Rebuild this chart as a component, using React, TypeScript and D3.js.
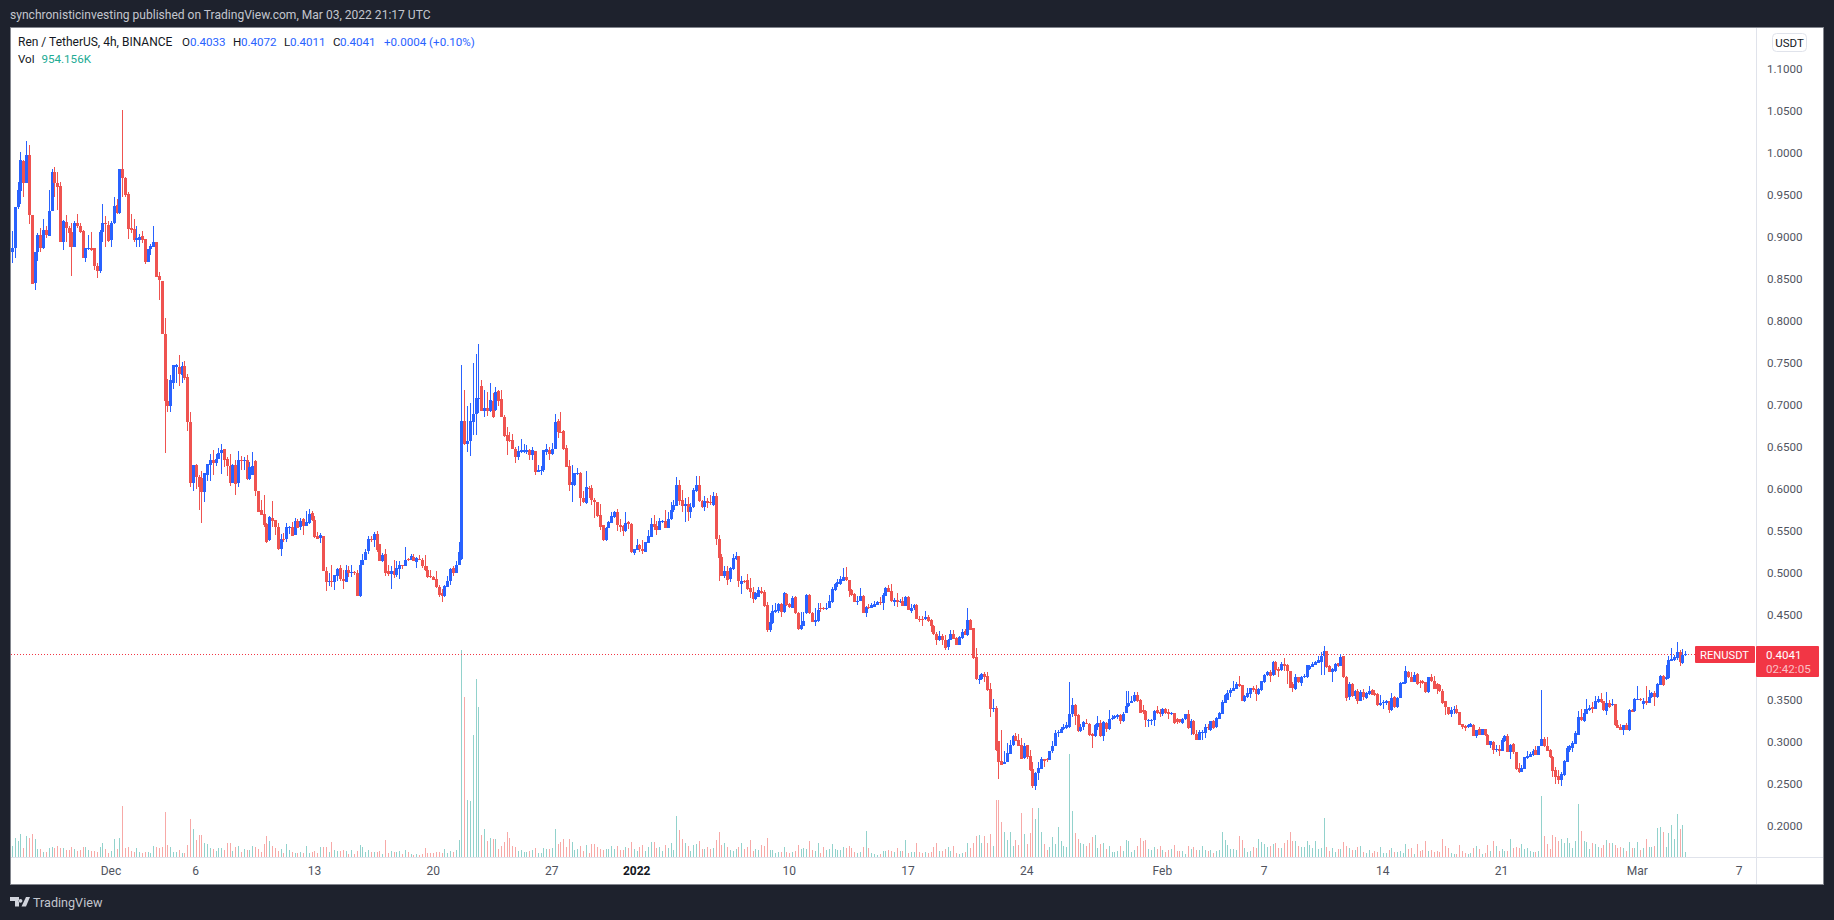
import React from "react";
import * as d3 from "d3";

// prices are in thousandths of USDT, one entry per 4h bar from Nov 25 04:00 UTC
const opens = [
  882,886,935,954,990,964,997,925,845,881,
  902,886,908,901,930,977,963,960,894,917,
  910,905,888,916,912,906,875,885,886,886,
  865,859,905,916,914,896,916,937,928,980,
  970,950,910,909,896,896,901,897,870,885,
  888,894,853,847,784,704,699,726,745,745,
  735,746,733,679,607,628,614,613,596,617,
  629,634,631,636,643,647,636,627,607,629,
  607,634,633,634,612,617,633,598,575,570,
  558,539,566,563,555,529,541,540,554,555,
  545,562,555,564,556,560,571,563,544,542,
  544,502,489,490,489,497,506,493,489,504,
  500,501,500,473,510,516,526,541,539,546,
  535,514,523,502,499,503,498,505,509,508,
  517,515,519,513,517,516,508,504,496,495,
  493,483,476,473,484,490,506,500,509,517,
  681,653,657,679,689,707,722,693,696,693,
  705,694,716,707,685,664,658,658,648,638,
  644,644,644,646,640,645,620,622,623,644,
  646,641,648,681,668,669,649,627,605,605,
  618,619,589,583,601,601,587,584,569,557,
  539,554,560,567,572,557,556,550,561,558,
  524,527,533,529,525,536,543,558,556,551,
  561,562,554,564,575,580,605,587,580,582,
  572,579,597,605,586,578,586,584,581,592,
  541,519,497,503,493,505,517,520,487,491,
  492,482,478,469,472,479,478,462,432,441,
  454,455,463,454,475,463,459,471,453,433,
  437,452,474,453,442,443,458,458,457,458,
  466,480,487,487,491,495,492,480,475,466,
  467,473,453,460,459,460,462,466,465,473,
  482,479,466,468,466,467,461,472,455,458,
  462,446,446,445,448,444,437,428,420,425,
  421,412,421,428,423,415,423,431,426,444,
  435,400,373,374,380,378,362,338,340,300,
  277,273,275,285,296,306,302,296,280,296,
  283,267,247,262,267,279,279,278,288,294,
  310,310,315,316,317,332,343,331,312,317,
  322,321,309,306,317,322,306,322,315,326,
  328,329,331,324,334,342,346,348,355,349,
  337,336,324,324,325,337,335,332,338,335,
  332,334,326,326,322,326,332,316,324,309,
  302,310,310,317,313,324,317,327,333,346,
  349,357,360,362,368,367,348,353,356,363,
  362,356,361,370,379,382,379,394,386,385,
  392,391,384,368,362,377,369,376,376,386,
  388,391,393,394,401,407,390,383,384,393,
  389,401,377,353,368,354,360,348,359,352,
  356,361,357,356,343,346,346,348,337,353,
  341,352,368,369,383,377,371,380,371,372,
  370,359,377,372,368,367,360,348,341,332,
  337,339,335,321,318,317,317,320,306,315,
  308,315,308,296,299,290,291,289,300,306,
  287,297,287,268,263,267,280,282,284,290,
  284,294,303,294,290,282,266,259,254,260,
  276,290,292,297,308,329,324,333,337,341,
  339,347,350,348,336,345,343,344,319,317,
  314,319,314,337,336,349,350,344,348,346,
  353,357,353,367,378,374,375,396,397,399,
  406,393,403.3,
];

const closes = [
  886,935,955,991,964,997,925,844,881,902,
  886,908,902,930,977,963,959,894,918,910,
  904,888,916,912,905,875,886,886,884,865,
  859,905,916,915,895,916,936,928,980,969,
  949,909,908,896,898,899,896,870,885,889,
  893,852,848,784,704,698,729,747,747,737,
  746,732,679,607,628,614,602,596,619,630,
  634,631,636,643,646,634,627,607,628,606,
  634,633,634,612,626,627,597,573,569,557,
  537,567,562,555,529,541,539,555,555,544,
  562,554,562,556,561,570,563,543,541,545,
  502,489,491,489,498,505,493,490,504,500,
  501,500,473,510,516,525,541,539,546,527,
  514,522,500,499,503,498,506,510,508,516,
  515,520,514,518,516,508,504,495,495,492,
  483,474,473,485,491,505,500,510,525,681,
  653,657,681,689,708,708,693,696,693,706,
  685,715,705,685,663,657,657,648,638,645,
  646,646,646,640,646,620,623,623,646,647,
  641,648,679,668,667,648,626,605,608,619,
  619,589,584,602,600,587,584,568,555,539,
  554,561,568,573,557,555,550,560,558,525,
  529,533,529,526,537,544,558,555,551,562,
  562,554,564,575,581,605,586,580,582,572,
  579,599,605,586,578,586,583,583,592,540,
  518,497,503,492,506,518,520,490,491,490,
  481,477,469,476,480,476,461,432,442,455,
  456,463,454,476,462,460,470,452,433,438,
  443,474,452,442,444,456,457,457,459,467,
  481,487,489,493,495,492,479,474,466,467,
  473,453,460,459,462,463,466,465,474,482,
  477,467,468,466,467,461,472,456,458,462,
  445,445,445,448,443,437,427,420,425,420,
  411,421,427,422,415,424,430,426,444,432,
  399,374,374,380,376,361,339,340,290,276,
  272,276,286,296,306,301,294,279,295,282,
  266,247,262,268,279,277,278,288,295,310,
  311,315,317,319,333,343,330,312,317,323,
  321,308,306,319,322,306,323,315,327,328,
  330,331,324,333,342,346,348,355,348,334,
  335,325,325,325,336,334,332,338,334,333,
  334,322,323,323,327,332,316,324,309,302,
  311,311,317,316,324,316,328,334,347,355,
  358,361,363,368,366,348,354,357,363,361,
  356,362,372,379,382,378,394,385,384,392,
  390,384,363,363,377,370,377,378,391,389,
  392,394,397,401,407,388,383,386,392,389,
  400,376,352,368,354,360,348,359,353,357,
  360,355,355,343,346,347,348,337,351,341,
  352,369,370,384,376,371,379,368,369,369,
  359,377,372,362,362,360,346,341,332,337,
  339,334,319,317,316,319,321,306,314,308,
  315,308,296,300,290,291,289,302,306,287,
  296,287,267,263,268,281,283,285,289,284,
  295,303,294,289,281,265,258,254,261,277,
  292,294,298,310,329,325,334,339,340,338,
  348,350,347,337,346,341,344,319,316,314,
  319,314,337,335,350,350,349,348,345,353,
  357,353,368,378,367,376,397,398,400,406,
  394,403,404.1,
];

const highs = [
  906,935,965,1000,991,1013,1009,925,881,904,
  910,921,912,955,980,983,977,965,920,925,
  912,916,919,927,916,908,886,902,905,886,
  868,908,939,924,918,919,947,945,980,1050,
  971,953,927,921,913,903,907,897,885,891,
  912,894,858,847,803,731,735,747,749,759,
  751,752,737,691,629,630,617,621,619,630,
  642,646,642,649,653,648,638,642,630,634,
  645,639,638,640,632,644,634,598,587,593,
  559,568,586,563,559,546,548,559,556,561,
  566,564,565,565,574,576,574,568,549,548,
  544,507,500,510,498,506,510,504,510,508,
  510,503,504,516,523,529,544,544,549,550,
  535,524,529,510,508,516,514,514,510,531,
  518,523,523,519,521,518,521,508,504,497,
  502,486,481,486,497,506,508,514,537,747,
  718,699,702,750,760,772,730,718,715,726,
  714,721,717,718,688,674,668,665,650,651,
  659,653,652,648,650,645,628,627,646,653,
  650,654,689,683,691,670,652,634,628,619,
  625,620,598,621,603,605,589,585,582,557,
  555,562,573,574,576,564,557,572,562,559,
  529,540,535,539,537,551,566,569,562,565,
  563,575,573,584,587,614,611,599,589,590,
  583,601,615,615,587,592,589,593,596,595,
  545,523,508,508,507,523,525,520,496,492,
  499,494,483,478,483,483,480,466,452,462,
  464,465,464,478,476,464,473,473,454,454,
  454,475,475,454,458,464,465,460,465,474,
  484,488,493,496,506,507,492,481,476,473,
  482,474,461,463,465,467,467,472,476,484,
  486,487,470,476,469,472,473,473,463,463,
  463,449,449,455,450,445,438,430,431,428,
  426,422,432,432,424,425,433,434,459,446,
  435,411,379,381,382,382,369,350,342,300,
  313,288,298,302,307,310,309,304,298,296,
  290,276,263,276,282,279,280,289,300,313,
  313,317,321,323,370,351,344,332,321,324,
  327,322,310,321,330,325,324,323,337,331,
  331,333,333,335,360,360,354,359,359,350,
  343,337,326,326,337,342,339,340,340,338,
  335,334,328,327,328,333,337,326,325,314,
  313,313,321,321,324,325,329,335,349,356,
  361,363,372,371,378,367,355,364,364,366,
  367,363,372,380,384,385,395,396,388,394,
  399,392,384,371,380,377,378,380,391,391,
  394,395,401,406,413,407,391,387,393,393,
  404,401,378,371,369,361,362,361,362,359,
  366,362,361,357,355,349,349,348,357,354,
  353,371,371,389,384,382,382,381,373,373,
  371,377,380,378,369,368,362,348,341,341,
  342,343,335,321,320,321,322,321,314,317,
  315,315,309,301,300,296,296,304,307,309,
  297,298,287,274,272,282,288,287,291,294,
  295,361,305,305,291,283,270,266,263,278,
  294,296,300,312,336,338,339,350,343,347,
  354,354,357,348,359,349,350,344,325,321,
  319,322,338,338,351,366,351,351,366,361,
  359,360,369,379,379,391,401,411,403,418,
  409,410,407.2,
];

const lows = [
  868,874,933,939,947,963,915,844,836,871,
  881,885,898,901,930,947,931,894,884,894,
  888,853,888,910,904,874,870,884,883,860,
  851,857,893,887,893,888,915,927,927,947,
  947,897,904,893,888,888,892,867,870,878,
  888,852,824,784,643,691,691,719,726,722,
  726,729,669,602,598,600,575,560,584,610,
  610,617,627,636,618,626,615,603,607,593,
  602,622,622,611,611,617,592,573,569,555,
  536,538,555,545,527,520,537,537,546,544,
  545,553,551,545,556,558,562,542,540,536,
  502,479,485,483,480,491,491,481,489,495,
  495,498,473,471,510,516,523,537,531,525,
  514,513,496,497,481,494,495,493,505,508,
  514,515,514,506,516,506,502,494,494,492,
  482,472,466,472,484,486,496,500,509,515,
  652,644,639,664,664,690,693,685,687,692,
  684,693,699,685,662,640,656,647,631,634,
  643,643,642,634,634,617,620,617,620,640,
  634,640,647,661,666,646,626,598,584,604,
  617,580,583,582,589,581,566,567,551,538,
  538,553,559,565,550,549,544,549,552,524,
  521,527,525,523,525,536,543,551,545,551,
  559,553,553,563,573,580,581,573,561,562,
  565,577,596,585,577,574,577,581,580,533,
  491,497,494,486,489,504,516,484,475,488,
  480,470,465,468,472,475,460,430,430,440,
  453,452,448,453,461,459,458,451,432,432,
  437,451,451,442,437,442,454,456,456,458,
  465,479,484,486,490,491,471,473,466,462,
  467,452,448,457,459,460,462,462,456,473,
  477,466,461,460,465,461,461,456,453,456,
  445,442,437,444,442,430,426,415,419,415,
  409,409,421,422,414,414,422,426,425,432,
  398,373,368,373,371,360,329,335,289,255,
  272,273,275,285,295,300,294,279,279,279,
  265,245,242,254,267,270,276,278,286,294,
  305,310,313,315,316,329,319,311,311,313,
  321,306,292,305,313,305,300,311,313,325,
  326,327,321,323,334,341,345,347,347,334,
  333,317,317,319,318,333,329,330,332,327,
  331,321,321,322,321,325,315,307,307,302,
  302,302,304,313,312,315,316,326,332,346,
  349,353,360,362,365,348,347,351,351,359,
  348,355,360,369,378,370,378,379,377,384,
  384,368,363,359,361,369,366,375,375,385,
  388,391,393,379,379,387,382,370,383,388,
  389,375,348,349,353,350,344,348,349,350,
  355,355,354,342,342,339,343,334,336,340,
  340,351,368,368,375,370,370,367,364,368,
  357,358,371,362,356,359,344,331,331,329,
  333,333,319,315,312,316,317,306,304,307,
  307,306,296,292,285,287,283,288,299,287,
  279,285,266,262,263,267,279,281,283,284,
  284,294,293,288,280,258,249,249,247,259,
  275,287,287,297,307,324,323,333,336,334,
  338,346,346,336,331,340,342,318,316,313,
  308,314,312,335,335,349,348,339,343,345,
  352,342,352,367,366,373,374,395,396,397,
  389,392,401.1,
];

// volume in units of 100K REN
const volumes = [
  23,38,33,47,19,43,39,47,36,17,
  17,10,11,19,21,19,23,19,19,15,
  15,21,17,13,15,21,21,15,13,13,
  11,21,29,17,9,13,37,17,39,103,
  19,21,13,11,19,11,9,11,11,9,
  23,21,19,21,91,25,21,11,11,15,
  9,9,25,77,57,35,45,45,29,27,
  19,17,13,19,19,15,29,29,13,21,
  23,11,17,15,15,23,21,17,11,27,
  43,33,23,19,13,17,9,27,15,11,
  9,9,11,9,23,9,11,13,9,21,
  21,21,11,31,15,13,13,15,13,7,
  15,7,13,25,21,11,15,11,11,11,
  13,7,35,9,13,11,11,13,7,15,
  11,7,5,7,5,7,19,9,9,9,
  11,11,9,17,9,13,11,15,35,415,
  320,114,112,244,356,300,44,57,32,38,
  36,36,17,22,30,50,38,22,21,13,
  15,11,11,13,15,19,9,9,19,17,
  17,19,57,27,30,36,21,36,30,15,
  17,22,13,24,9,27,27,21,17,15,
  17,17,22,17,22,15,15,21,19,30,
  17,13,21,24,13,21,30,30,19,21,
  13,24,19,28,15,83,55,36,28,22,
  13,24,26,32,17,17,21,17,19,34,
  51,24,28,21,15,13,17,21,28,17,
  21,34,13,17,15,24,22,39,15,15,
  9,11,11,21,11,9,11,13,24,17,
  19,17,32,15,13,28,9,21,15,17,
  27,17,15,15,21,19,22,19,11,9,
  11,21,53,19,9,7,5,7,13,13,
  15,13,11,19,13,13,35,9,11,11,
  28,11,9,11,9,11,21,28,13,13,
  16,20,13,23,8,6,8,10,28,19,
  28,43,45,29,43,29,47,23,115,115,
  71,51,35,51,23,35,25,89,47,27,
  49,99,77,99,51,27,15,21,41,27,
  61,33,23,21,206,93,49,37,29,27,
  23,29,41,45,19,27,29,17,23,11,
  11,13,23,13,35,33,11,15,23,39,
  33,35,17,15,21,17,23,15,11,15,
  17,25,13,13,13,7,23,17,21,15,
  15,23,15,13,15,9,13,15,51,35,
  25,17,17,15,43,35,19,11,13,21,
  19,37,31,27,21,23,27,29,19,19,
  29,35,51,33,33,23,21,21,33,25,
  19,33,17,19,79,21,13,19,11,17,
  17,31,23,19,15,15,21,23,11,9,
  15,9,13,11,21,9,9,15,19,11,
  11,13,9,27,17,19,7,27,13,15,
  33,13,15,11,13,11,37,23,19,9,
  7,7,25,13,9,7,9,19,23,17,
  7,9,25,13,33,23,13,17,13,13,
  37,19,21,19,27,17,19,13,11,11,
  13,123,43,27,17,45,41,33,37,29,
  39,29,19,33,107,53,33,31,17,29,
  27,21,19,25,35,29,29,25,19,21,
  19,13,31,19,19,31,15,19,37,21,
  21,23,59,61,51,21,49,65,37,87,
  57,65,10,
];

const priceTicks = [1100,1050,1000,950,900,850,800,750,700,650,600,550,500,450,350,300,250,200];

const timeTicks = [
  { date: "2021-12-01", label: "Dec" },
  { date: "2021-12-06", label: "6" },
  { date: "2021-12-13", label: "13" },
  { date: "2021-12-20", label: "20" },
  { date: "2021-12-27", label: "27" },
  { date: "2022-01-01", label: "2022", bold: true },
  { date: "2022-01-10", label: "10" },
  { date: "2022-01-17", label: "17" },
  { date: "2022-01-24", label: "24" },
  { date: "2022-02-01", label: "Feb" },
  { date: "2022-02-07", label: "7" },
  { date: "2022-02-14", label: "14" },
  { date: "2022-02-21", label: "21" },
  { date: "2022-03-01", label: "Mar" },
  { date: "2022-03-07", label: "7" },
];

const legendValues = [
  { key: "O", val: "0.4033", kx: 182, vx: 190 },
  { key: "H", val: "0.4072", kx: 233, vx: 241 },
  { key: "L", val: "0.4011", kx: 284, vx: 290 },
  { key: "C", val: "0.4041", kx: 333, vx: 340 },
];

const UP = "#2962ff";
const DOWN = "#ef5350";
const VOL_UP = "#92d2cc";
const VOL_DOWN = "#f7a9a7";
const FONT = "Roboto, sans-serif";

const firstBar = new Date(Date.UTC(2021, 10, 25, 4));

export default function App() {
  const x = d3
    .scaleUtc()
    .domain([firstBar, new Date(Date.UTC(2022, 2, 7))])
    .range([12, 1739]);
  const y = d3.scaleLinear().domain([200, 1100]).range([825.5, 68.2]);
  const vy = d3.scaleLinear().domain([0, 414]).range([857, 650]);

  const barX = (i: number) => Math.round(x(d3.utcHour.offset(firstBar, i * 4)));
  const last = closes[closes.length - 1];
  const lastY = Math.round(y(last)) + 0.5;

  return (
    <svg
      width={1834}
      height={920}
      style={{ position: "absolute", left: 0, top: 0, display: "block" }}
      fontFamily={FONT}
    >
      <rect width={1834} height={920} fill="#1e222d" />
      <text x={10} y={19} fontSize={12.05} fill="#c3c6ce">
        synchronisticinvesting published on TradingView.com, Mar 03, 2022 21:17 UTC
      </text>

      <rect x={10.5} y={27.5} width={1813} height={857} fill="#fff" stroke="#83868e" />

      {/* volume */}
      <g shapeRendering="crispEdges">
        {volumes.map((v, i) => (
          <rect
            key={`vol/${i}`}
            x={barX(i)}
            y={vy(v)}
            width={1}
            height={857 - vy(v)}
            fill={closes[i] >= opens[i] ? VOL_UP : VOL_DOWN}
          />
        ))}
      </g>

      <line
        x1={11}
        x2={1756}
        y1={lastY}
        y2={lastY}
        stroke="#f23645"
        strokeDasharray="1 2"
        shapeRendering="crispEdges"
      />

      {/* candles */}
      <g shapeRendering="crispEdges">
        {closes.map((c, i) => {
          const o = opens[i];
          const color = c >= o ? UP : DOWN;
          const top = Math.round(y(Math.max(o, c)));
          const bot = Math.round(y(Math.min(o, c)));
          const hi = Math.round(y(highs[i]));
          const lo = Math.round(y(lows[i]));
          return (
            <g key={`bar/${i}`} fill={color}>
              <rect x={barX(i)} y={hi} width={1} height={Math.max(lo - hi, 1)} />
              <rect x={barX(i) - 1} y={top} width={3} height={Math.max(bot - top, 1)} />
            </g>
          );
        })}
      </g>

      {/* axes */}
      <g shapeRendering="crispEdges" stroke="#e0e3eb">
        <line x1={1756.5} x2={1756.5} y1={28} y2={884} />
        <line x1={11} x2={1823} y1={857.5} y2={857.5} />
      </g>

      <rect x={1772.5} y={33.5} width={34} height={18} rx={4} fill="#fff" stroke="#e0e3eb" />
      <text x={1789.5} y={46.6} fontSize={11.5} fill="#131722" textAnchor="middle">
        USDT
      </text>

      {priceTicks.map((p) => (
        <text key={`price/${p}`} x={1767} y={y(p) + 4.3} fontSize={11.6} fill="#50535e">
          {(p / 1000).toFixed(4)}
        </text>
      ))}

      {timeTicks.map((t) => (
        <text
          key={`time/${t.date}`}
          x={x(new Date(t.date))}
          y={874.5}
          fontSize={12}
          textAnchor="middle"
          fontWeight={t.bold ? 700 : 400}
          fill={t.bold ? "#131722" : "#50535e"}
        >
          {t.label}
        </text>
      ))}

      {/* legend */}
      <g fontSize={11.6}>
        <text x={18} y={46} fontSize={12} fill="#131722">
          Ren / TetherUS, 4h, BINANCE
        </text>
        {legendValues.map((d) => (
          <g key={d.key}>
            <text x={d.kx} y={46} fill="#131722">
              {d.key}
            </text>
            <text x={d.vx} y={46} fill={UP}>
              {d.val}
            </text>
          </g>
        ))}
        <text x={384} y={46} fill={UP}>
          +0.0004 (+0.10%)
        </text>
        <text x={18} y={63} fill="#131722">
          Vol
        </text>
        <text x={41.5} y={63} fill="#22ab94">
          954.156K
        </text>
      </g>

      {/* last price labels */}
      <rect x={1695} y={646} width={60} height={17} rx={1} fill="#f23645" />
      <text x={1700} y={658.6} fontSize={11.2} fill="#fff">
        RENUSDT
      </text>
      <rect x={1756} y={646} width={63} height={31} rx={1} fill="#f23645" />
      <text x={1766} y={659.3} fontSize={11.6} fill="#fff">
        0.4041
      </text>
      <text x={1766} y={673} fontSize={11.6} fill="#fff" fillOpacity={0.7}>
        02:42:05
      </text>

      {/* footer */}
      <path
        d="M10 897h9v9.5h-4v-5.5h-5zM26 897h4l-4 9.5h-4.5zM20.5 899a1.9 1.9 0 1 0 0.01 0z"
        fill="#d1d4dc"
      />
      <text x={33} y={906.5} fontSize={12.6} fill="#c3c6ce">
        TradingView
      </text>
    </svg>
  );
}
